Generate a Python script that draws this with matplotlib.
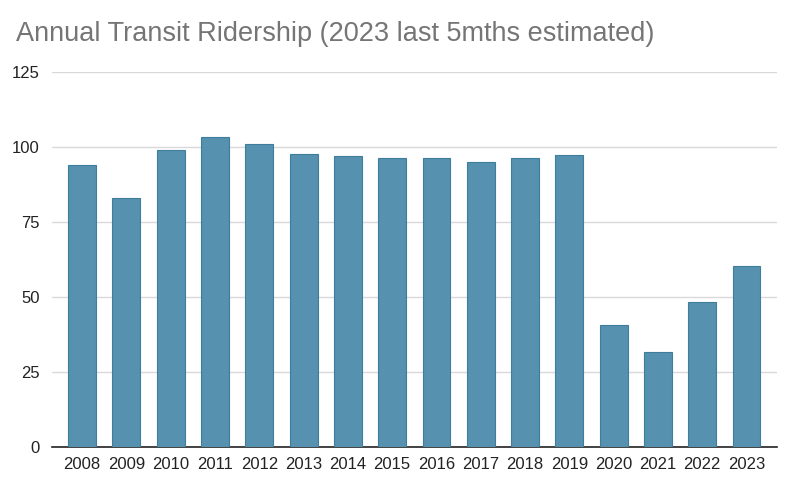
import matplotlib.pyplot as plt
import numpy as np

years = ['2008', '2009', '2010', '2011', '2012', '2013', '2014', '2015',
         '2016', '2017', '2018', '2019', '2020', '2021', '2022', '2023']
ridership = [93.9, 83.0, 99.1, 103.2, 101.0, 97.8, 97.0, 96.4,
             96.4, 95.1, 96.4, 97.4, 40.6, 31.6, 48.3, 60.5]

plt.rcParams['font.family'] = ['Liberation Sans', 'DejaVu Sans']

fig = plt.figure(figsize=(7.96, 4.84), dpi=100)
ax = fig.add_axes([0.0653, 0.0764, 0.9104, 0.7748])

x = np.arange(len(years))
ax.bar(x, ridership, width=0.63, color='#5791b0', edgecolor='#3e7d9c',
       linewidth=0.8, zorder=3)

ax.set_xlim(-0.68, len(years) - 1 + 0.68)
ax.set_ylim(0, 125)
ax.set_yticks([0, 25, 50, 75, 100, 125])
ax.set_xticks(x)
ax.set_xticklabels(years)
ax.yaxis.grid(True, color='#d9d9d9', linewidth=1, zorder=0)
ax.tick_params(axis='both', length=0, labelsize=12, colors='#222222')
ax.tick_params(axis='x', pad=7)
ax.tick_params(axis='y', pad=9)
for s in ['top', 'right', 'left']:
    ax.spines[s].set_visible(False)
ax.spines['bottom'].set_color('#222222')
ax.spines['bottom'].set_linewidth(1.2)

fig.text(0.02, 0.93, 'Annual Transit Ridership (2023 last 5mths estimated)',
         fontsize=19.5, color='#757575', ha='left', va='center')

fig.savefig('out.png', dpi=100)
